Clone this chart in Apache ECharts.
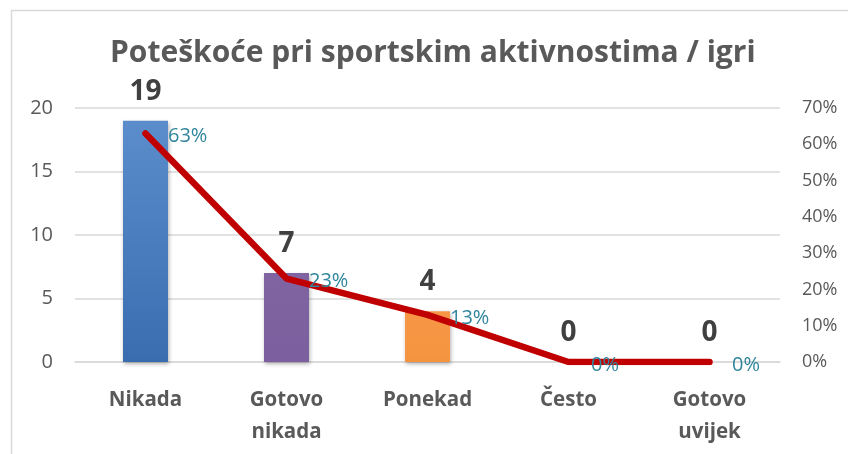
<!DOCTYPE html>
<html lang="hr">
<head>
    <meta charset="UTF-8">
    <title>Poteškoće pri sportskim aktivnostima / igri</title>
    <script src="https://cdn.jsdelivr.net/npm/echarts@6/dist/echarts.min.js"></script>
    <style>
        html, body { margin: 0; padding: 0; background: #fff; }
        #chart { width: 848px; height: 454px; }
    </style>
</head>
<body>
<div id="chart"></div>
<script type="text/javascript">
    // podaci
    var categories = ['Nikada', 'Gotovo\nnikada', 'Ponekad', 'Često', 'Gotovo\nuvijek'];
    var counts = [19, 7, 4, 0, 0];
    var shares = [0.63, 0.23, 0.13, 0, 0];
    var leftTicks = [0, 5, 10, 15, 20];
    var rightTicks = [0, 0.1, 0.2, 0.3, 0.4, 0.5, 0.6, 0.7];

    var barColors = [
        ['#5b8dcc', '#3a6db0'],
        ['#8064a2', '#7c5f9e'],
        ['#f79646', '#f59440'],
        ['#4bacc6', '#3f9db6'],
        ['#9bbb59', '#8aab4a']
    ];

    var myChart = echarts.init(document.getElementById('chart'));

    var barData = counts.map(function (v, i) {
        return {
            value: v,
            itemStyle: {
                color: new echarts.graphic.LinearGradient(0, 0, 0, 1, [
                    {offset: 0, color: barColors[i][0]},
                    {offset: 1, color: barColors[i][1]}
                ])
            }
        };
    });

    var option = {
        animation: false,
        graphic: [{
            type: 'rect',
            shape: {x: 11.5, y: 10.5, width: 900, height: 500},
            style: {fill: 'none', stroke: '#d9d9d9', lineWidth: 1.5},
            silent: true
        }],
        title: {
            text: 'Poteškoće pri sportskim aktivnostima / igri',
            left: 105,
            top: 33,
            textStyle: {
                fontFamily: 'Open Sans',
                fontWeight: 'bold',
                fontSize: 30,
                color: '#595959'
            }
        },
        grid: {left: 75, right: 68, top: 108, bottom: 92},
        xAxis: {
            type: 'category',
            data: categories,
            axisLine: {lineStyle: {color: '#d9d9d9', width: 1.5}},
            axisTick: {show: false},
            axisLabel: {
                margin: 22,
                fontFamily: 'Open Sans',
                fontWeight: 'bold',
                fontSize: 20.5,
                lineHeight: 32,
                color: '#595959'
            }
        },
        yAxis: [{
            type: 'value',
            min: leftTicks[0],
            max: leftTicks[leftTicks.length - 1],
            interval: 5,
            axisLine: {show: false},
            axisTick: {show: false},
            splitLine: {lineStyle: {color: '#d9d9d9', width: 1.5}},
            axisLabel: {
                margin: 22,
                fontFamily: 'Open Sans',
                fontSize: 20,
                color: '#595959'
            }
        }, {
            type: 'value',
            min: rightTicks[0],
            max: rightTicks[rightTicks.length - 1],
            interval: 0.1,
            axisLine: {show: false},
            axisTick: {show: false},
            splitLine: {show: false},
            axisLabel: {
                margin: 22,
                fontFamily: 'Open Sans',
                fontSize: 18,
                color: '#595959',
                formatter: function (v) { return Math.round(v * 100) + '%'; }
            }
        }],
        series: [{
            name: 'Broj',
            type: 'bar',
            barWidth: 45,
            data: barData,
            itemStyle: {
                shadowBlur: 4,
                shadowColor: 'rgba(0,0,0,0.3)',
                shadowOffsetX: 1,
                shadowOffsetY: 2
            },
            label: {
                show: true,
                position: 'top',
                distance: 15,
                fontFamily: 'Open Sans',
                fontWeight: 'bold',
                fontSize: 28,
                color: '#404040'
            },
            z: 2
        }, {
            name: 'Udio',
            type: 'line',
            yAxisIndex: 1,
            data: shares,
            symbol: 'circle',
            symbolSize: 1,
            itemStyle: {color: '#c00000'},
            lineStyle: {color: '#c00000', width: 6.5, cap: 'round', join: 'round'},
            label: {
                show: true,
                position: 'right',
                distance: 22,
                offset: [0, 3],
                fontFamily: 'Open Sans',
                fontSize: 20,
                color: '#31859c',
                formatter: function (p) { return Math.round(p.value * 100) + '%'; }
            },
            z: 3
        }]
    };

    myChart.setOption(option);
</script>
</body>
</html>
